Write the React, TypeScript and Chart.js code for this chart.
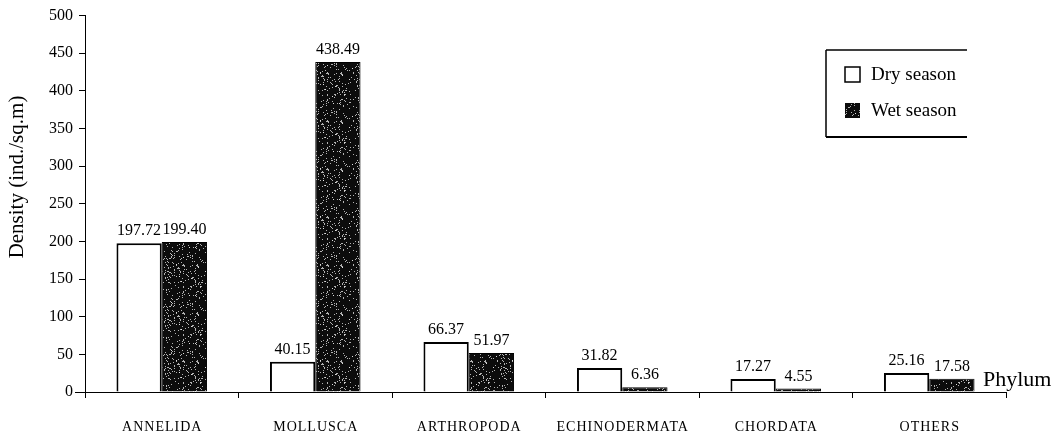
import React, { useEffect, useRef } from "react";
import { Chart, registerables } from "chart.js";

Chart.register(...registerables);

const categories = ["ANNELIDA", "MOLLUSCA", "ARTHROPODA", "ECHINODERMATA", "CHORDATA", "OTHERS"];
const drySeason = [197.72, 40.15, 66.37, 31.82, 17.27, 25.16];
const wetSeason = [199.4, 438.49, 51.97, 6.36, 4.55, 17.58];
const seriesNames = ["Dry season", "Wet season"];
const yMin = 0;
const yMax = 500;
const yStep = 50;
const yTitle = "Density (ind./sq.m)";
const xTitle = "Phylum";

const SERIF = "'Liberation Serif', 'Times New Roman', serif";

function makeSpeckle(): CanvasPattern | string {
  const c = document.createElement("canvas");
  c.width = 48;
  c.height = 48;
  const g = c.getContext("2d");
  if (!g) return "#111";
  g.fillStyle = "#0c0c0c";
  g.fillRect(0, 0, 48, 48);
  g.fillStyle = "rgba(235,235,235,0.75)";
  for (let i = 0; i < 230; i++) {
    const hx = Math.abs(Math.sin(i * 12.9898) * 43758.5453) % 1;
    const hy = Math.abs(Math.sin(i * 78.233 + 3.1) * 24634.6345) % 1;
    g.fillRect(Math.floor(hx * 48), Math.floor(hy * 48), 1, 1);
  }
  const p = g.createPattern(c, "repeat");
  return p || "#111";
}

export default function App() {
  const ref = useRef<HTMLCanvasElement | null>(null);

  useEffect(() => {
    document.body.style.margin = "0";
    const canvas = ref.current;
    if (!canvas) return;
    const dark = makeSpeckle();

    const extras = {
      id: "extras",
      afterDatasetsDraw(chart: any) {
        const ctx = chart.ctx;
        ctx.save();
        ctx.fillStyle = "#000";
        ctx.font = `16px ${SERIF}`;
        ctx.textAlign = "center";
        ctx.textBaseline = "alphabetic";
        chart.data.datasets.forEach((ds: any, di: number) => {
          const meta = chart.getDatasetMeta(di);
          meta.data.forEach((el: any, i: number) => {
            const v = ds.data[i] as number;
            ctx.fillText(v.toFixed(2), el.x, el.y - 8);
          });
        });
        ctx.restore();
      },
      afterDraw(chart: any) {
        const ctx = chart.ctx;
        const area = chart.chartArea;
        const xs = chart.scales.x;
        ctx.save();
        ctx.strokeStyle = "#000";
        ctx.lineWidth = 1;
        ctx.beginPath();
        ctx.moveTo(area.left - 10, area.bottom + 0.5);
        ctx.lineTo(area.left, area.bottom + 0.5);
        ctx.stroke();

        // category labels
        ctx.fillStyle = "#000";
        ctx.font = `14px ${SERIF}`;
        ctx.textAlign = "center";
        ctx.textBaseline = "middle";
        (ctx as any).letterSpacing = "1px";
        chart.data.labels.forEach((lab: string, i: number) => {
          const x = xs.getPixelForValue(i);
          ctx.fillText(lab, x + 0.5, 427);
        });
        (ctx as any).letterSpacing = "0px";

        // y title
        ctx.font = `21px ${SERIF}`;
        ctx.translate(17, 177);
        ctx.rotate(-Math.PI / 2);
        ctx.fillText(yTitle, 0, 0);
        ctx.restore();

        // x title (Phylum)
        ctx.save();
        ctx.fillStyle = "#000";
        ctx.font = `22px ${SERIF}`;
        ctx.textAlign = "left";
        ctx.textBaseline = "alphabetic";
        ctx.fillText(xTitle, 983, 386);
        ctx.restore();

        // legend box (clipped at right)
        ctx.save();
        const lx = 826, ty = 50, by = 137, rx = 967;
        ctx.strokeStyle = "#000";
        ctx.lineWidth = 1.5;
        ctx.beginPath();
        ctx.moveTo(lx, ty);
        ctx.lineTo(rx, ty);
        ctx.moveTo(lx, ty);
        ctx.lineTo(lx, by);
        ctx.stroke();
        ctx.lineWidth = 2;
        ctx.beginPath();
        ctx.moveTo(lx, by);
        ctx.lineTo(rx, by);
        ctx.stroke();

        ctx.beginPath();
        ctx.rect(lx, ty, rx - lx, by - ty);
        ctx.clip();
        ctx.lineWidth = 1.5;
        ctx.fillStyle = "#fff";
        ctx.fillRect(845, 67, 15, 15);
        ctx.strokeRect(845, 67, 15, 15);
        ctx.fillStyle = dark as any;
        ctx.fillRect(845, 103, 15, 15);
        ctx.fillStyle = "#000";
        ctx.font = `19px ${SERIF}`;
        ctx.textAlign = "left";
        ctx.textBaseline = "middle";
        ctx.fillText(seriesNames[0], 871, 75);
        ctx.fillText(seriesNames[1], 871, 111);
        ctx.restore();
      },
    };

    const chart = new Chart(canvas, {
      type: "bar",
      data: {
        labels: categories,
        datasets: [
          {
            label: seriesNames[0],
            data: drySeason,
            backgroundColor: "#ffffff",
            borderColor: "#000000",
            borderWidth: 2,
            categoryPercentage: 0.59,
            barPercentage: 1,
          },
          {
            label: seriesNames[1],
            data: wetSeason,
            backgroundColor: dark as any,
            borderColor: "#000000",
            borderWidth: 1,
            categoryPercentage: 0.59,
            barPercentage: 1,
          },
        ],
      },
      options: {
        responsive: false,
        animation: false,
        devicePixelRatio: 1,
        layout: { padding: { top: 15, right: 57, bottom: 0, left: 0 } },
        plugins: {
          legend: { display: false },
          tooltip: { enabled: false },
          title: { display: false },
        },
        scales: {
          x: {
            type: "category",
            grid: {
              offset: true,
              drawOnChartArea: false,
              drawTicks: true,
              tickLength: 6,
              color: "#000",
            },
            border: { display: true, color: "#000", width: 1 },
            ticks: {
              display: false,
            },
            afterFit(scale: any) {
              scale.height = 55;
            },
          },
          y: {
            min: yMin,
            max: yMax,
            grid: {
              drawOnChartArea: false,
              drawTicks: true,
              tickLength: 6,
              color: "#000",
            },
            border: { display: true, color: "#000", width: 1 },
            ticks: {
              stepSize: yStep,
              color: "#000",
              font: { family: SERIF, size: 16 },
              padding: 6,
            },
            afterFit(scale: any) {
              scale.width = 85;
            },
          },
        },
      },
      plugins: [extras],
    });

    return () => chart.destroy();
  }, []);

  return (
    <div style={{ width: 1063, height: 447, background: "#fff" }}>
      <canvas ref={ref} width={1063} height={447} style={{ display: "block" }} />
    </div>
  );
}
